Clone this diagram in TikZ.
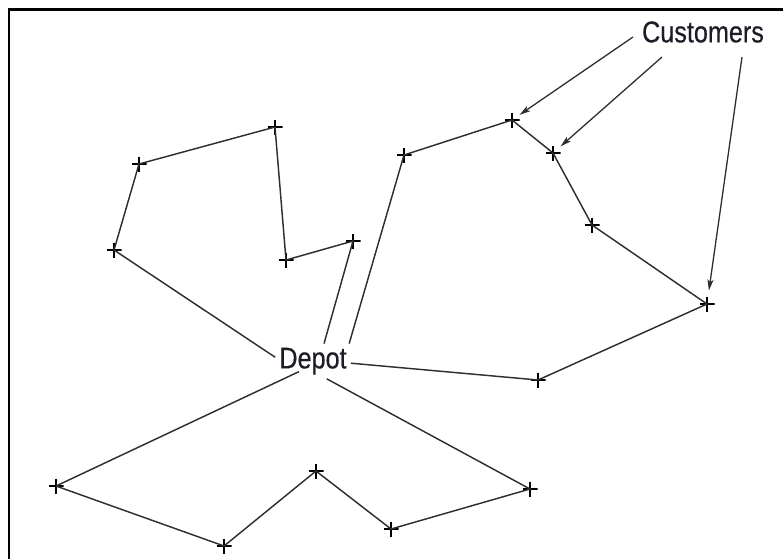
\documentclass[tikz,border=0pt]{standalone}
\usepackage{fontspec}
\usetikzlibrary{arrows.meta}
\newfontfamily\lblfont[FakeStretch=0.84,FakeBold=0.4]{Liberation Sans}
\definecolor{routegray}{HTML}{2E2E2E}
\definecolor{inkdark}{HTML}{1C1C26}
\tikzset{
  route/.style={draw=routegray, line width=1.45pt},
  custpt/.style={minimum size=15pt, inner sep=0pt, outer sep=0pt,
    path picture={\draw[line width=1.2pt, black]
      (path picture bounding box.north) -- (path picture bounding box.south)
      (path picture bounding box.west) -- (path picture bounding box.east);}},
  lbl/.style={text=inkdark, font=\lblfont\fontsize{30}{32}\selectfont, inner sep=4pt},
  pointer/.style={draw=routegray, line width=1.3pt, -{Stealth[length=11pt,width=6pt,inset=2.5pt]}}
}
\begin{document}
\begin{tikzpicture}[x=1pt,y=-1pt]
\useasboundingbox (0,0) rectangle (783,558);
\clip (0,0) rectangle (783,558);
% frame (only its top and left edges fall inside the page)
\draw[line width=2.6pt, black] (9,9.3) rectangle (820,600);

% customer locations
\node[custpt] (c1) at (512,120) {};
\node[custpt] (c2) at (553,153) {};
\node[custpt] (c3) at (592,225) {};
\node[custpt] (c4) at (707,304) {};
\node[custpt] (c5) at (538,380) {};
\node[custpt] (c6) at (404,155) {};
\node[custpt] (c7) at (275,127) {};
\node[custpt] (c8) at (139,164) {};
\node[custpt] (c9) at (114,250) {};
\node[custpt] (c10) at (286,260) {};
\node[custpt] (c11) at (353,241) {};
\node[custpt] (c12) at (56,486) {};
\node[custpt] (c13) at (224,546) {};
\node[custpt] (c14) at (316,471) {};
\node[custpt] (c15) at (391,529) {};
\node[custpt] (c16) at (530,489) {};

% labels
\node[lbl] (depot) at (313,361.2) {Depot};
\node[lbl] (customers) at (703,32) {Customers};

% route 1 (upper left loop)
\draw[route] (depot.174) -- (c9.center) -- (c8.center) -- (c7.center)
  -- (c10.center) -- (c11.center) -- (depot.58);
% route 2 (right loop)
\draw[route] (depot.26) -- (c6.center) -- (c1.center) -- (c2.center)
  -- (c3.center) -- (c4.center) -- (c5.center) -- (depot.-3.5);
% route 3 (lower loop)
\draw[route, shorten <=-17pt] (depot.211) -- (c12.center);
\draw[route] (c12.center) -- (c13.center) -- (c14.center) -- (c15.center)
  -- (c16.center) -- (depot.-52);

% pointers from the "Customers" label
\coordinate (t1) at (633,37);
\coordinate (t2) at (662,57);
\coordinate (t3) at (742,57);
\draw[pointer] (t1) -- (c1);
\draw[pointer] (t2) -- (c2);
\draw[pointer, shorten >=6pt] (t3) -- (c4);
\end{tikzpicture}
\end{document}
